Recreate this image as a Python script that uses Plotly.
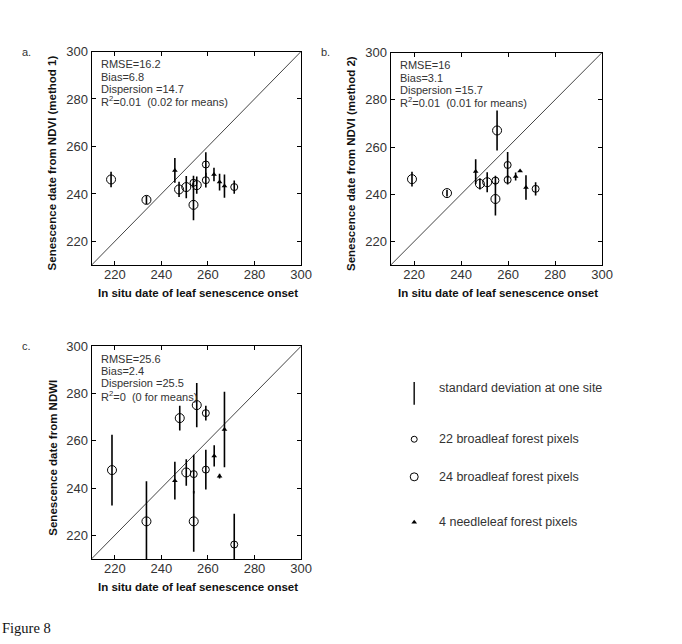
import plotly.graph_objects as go

W, H = 682, 644

# ---------------- data ----------------
AXIS_RANGE = [210, 300]
TICK_VALS = [220, 240, 260, 280, 300]
TICK_TEXT = ["220", "240", "260", "280", "300"]

# Panel a: NDVI method 1
a_big_x = [218.4, 233.6, 247.6, 250.7, 253.8, 255.2]
a_big_y = [246.1, 237.5, 241.9, 242.9, 235.4, 243.7]
a_big_sd = [3.3, 1.7, 3.2, 4.7, 6.5, 3.6]
a_small_x = [253.8, 259.1, 259.1, 271.3]
a_small_y = [244.7, 252.4, 245.8, 242.9]
a_small_sd = [3.0, 5.2, 3.1, 2.8]
a_tri_x = [245.8, 262.6, 265.0, 267.1]
a_tri_y = [249.9, 248.2, 245.0, 243.3]
a_tri_sd = [5.2, 2.8, 3.5, 4.9]
a_stats = ["RMSE=16.2", "Bias=6.8", "Dispersion =14.7", "R<sup>2</sup>=0.01  (0.02 for means)"]

# Panel b: NDVI method 2
b_big_x = [219.1, 234.0, 248.0, 251.1, 254.6, 255.3]
b_big_y = [246.4, 240.5, 244.4, 245.1, 238.0, 267.0]
b_big_sd = [3.1, 1.4, 2.4, 4.2, 7.0, 8.5]
b_small_x = [254.6, 259.8, 259.8, 271.7]
b_small_y = [245.8, 252.4, 246.1, 242.3]
b_small_sd = [2.0, 5.5, 2.0, 2.8]
b_tri_x = [246.2, 263.2, 265.1, 267.6]
b_tri_y = [249.6, 247.5, 249.9, 242.9]
b_tri_sd = [5.2, 1.7, 0.0, 5.2]
b_stats = ["RMSE=16", "Bias=3.1", "Dispersion =15.7", "R<sup>2</sup>=0.01  (0.01 for means)"]

# Panel c: NDWI
c_big_x = [218.8, 233.6, 247.9, 250.7, 253.9, 255.2]
c_big_y = [247.6, 225.9, 269.6, 246.6, 225.9, 275.1]
c_big_sd = [15.0, 17.0, 5.2, 5.6, 12.9, 9.4]
c_small_x = [253.9, 259.1, 259.1, 271.3]
c_small_y = [245.9, 271.7, 247.8, 216.1]
c_small_sd = [8.2, 3.1, 8.4, 13.0]
c_tri_x = [245.8, 262.7, 265.0, 267.1]
c_tri_y = [243.1, 253.6, 245.0, 264.8]
c_tri_sd = [8.0, 4.5, 1.0, 16.0]
c_stats = ["RMSE=25.6", "Bias=2.4", "Dispersion =25.5", "R<sup>2</sup>=0  (0 for means)"]

X_TITLE = "In situ date of leaf senescence onset"
Y_TITLES = ["Senescence date from NDVI (method 1)",
            "Senescence date from NDVI (method 2)",
            "Senescence date from NDWI"]
PANEL_LABELS = ["a.", "b.", "c."]

LEGEND_TEXTS = ["standard deviation at one site",
                "22 broadleaf forest pixels",
                "24 broadleaf forest pixels",
                "4 needleleaf forest pixels"]
FIG_CAPTION = "Figure 8"

# ---------------- layout helpers ----------------
def px(x):
    return x / W

def py(y):
    return 1 - y / H

FONT = "Liberation Sans, Arial, sans-serif"
TXT = "#333333"

# pixel boxes (left, right, top, bottom)
boxes = [(93, 306, 45, 261), (397, 612, 46, 261), (93, 306, 343, 558)]
panel_data = [
    (a_big_x, a_big_y, a_big_sd, a_small_x, a_small_y, a_small_sd, a_tri_x, a_tri_y, a_tri_sd, a_stats),
    (b_big_x, b_big_y, b_big_sd, b_small_x, b_small_y, b_small_sd, b_tri_x, b_tri_y, b_tri_sd, b_stats),
    (c_big_x, c_big_y, c_big_sd, c_small_x, c_small_y, c_small_sd, c_tri_x, c_tri_y, c_tri_sd, c_stats),
]

fig = go.Figure()
annotations = []
layout_axes = {}

def err(sd):
    return dict(type="data", array=sd, visible=True, color="black", thickness=1.6, width=0)

for i, (box, pdata) in enumerate(zip(boxes, panel_data)):
    L, R, T, B = box
    n = "" if i == 0 else str(i + 1)
    xa, ya = "x" + n, "y" + n
    bx, by, bsd, sx, sy, ssd, tx, ty, tsd, stats = pdata

    axis_common = dict(range=AXIS_RANGE, tickvals=TICK_VALS, ticktext=TICK_TEXT,
                       ticks="inside", ticklen=4, tickcolor="black",
                       showline=True, linecolor="black", linewidth=1, mirror="ticks",
                       showgrid=False, zeroline=False,
                       tickfont=dict(family=FONT, size=13, color=TXT))
    layout_axes["xaxis" + n] = dict(axis_common, domain=[px(L), px(R)], anchor=ya,
                                    ticklabelstandoff=-3)
    layout_axes["yaxis" + n] = dict(axis_common, domain=[py(B), py(T)], anchor=xa)

    # 1:1 line
    fig.add_trace(go.Scatter(x=AXIS_RANGE, y=AXIS_RANGE, mode="lines",
                             line=dict(color="#444444", width=1), xaxis=xa, yaxis=ya,
                             showlegend=False, hoverinfo="skip"))
    # big circles
    fig.add_trace(go.Scatter(x=bx, y=by, mode="markers", error_y=err(bsd),
                             marker=dict(symbol="circle-open", size=9, color="black",
                                         line=dict(width=1, color="black")),
                             xaxis=xa, yaxis=ya, showlegend=False))
    # small circles
    fig.add_trace(go.Scatter(x=sx, y=sy, mode="markers", error_y=err(ssd),
                             marker=dict(symbol="circle-open", size=7, color="black",
                                         line=dict(width=1, color="black")),
                             xaxis=xa, yaxis=ya, showlegend=False))
    # needleleaf triangles
    fig.add_trace(go.Scatter(x=tx, y=ty, mode="markers", error_y=err(tsd),
                             marker=dict(symbol="triangle-up", size=5, color="black"),
                             xaxis=xa, yaxis=ya, showlegend=False))

    # stats text
    for k, s in enumerate(stats):
        annotations.append(dict(x=px(L + 8), y=py(T + 13 + k * 12.3), xref="paper", yref="paper",
                                text=s, showarrow=False, xanchor="left", yanchor="middle",
                                font=dict(family=FONT, size=11, color=TXT)))
    # axis titles
    annotations.append(dict(x=px((L + R) / 2 + 2), y=py(B + 28), xref="paper", yref="paper",
                            text="<b>" + X_TITLE + "</b>", showarrow=False,
                            xanchor="center", yanchor="middle",
                            font=dict(family=FONT, size=11.5, color="#111111")))
    annotations.append(dict(x=px(L - 40), y=py((T + B) / 2 + 5), xref="paper", yref="paper",
                            text="<b>" + Y_TITLES[i] + "</b>", showarrow=False, textangle=-90,
                            xanchor="center", yanchor="middle",
                            font=dict(family=FONT, size=11.5, color="#111111")))
    # panel label
    annotations.append(dict(x=px(L - 73), y=py(T), xref="paper", yref="paper",
                            text=PANEL_LABELS[i], showarrow=False, xanchor="left", yanchor="middle",
                            font=dict(family=FONT, size=11, color=TXT)))

# ---------------- legend (hidden pixel axis over the legend area only) ----------------
LEG_L, LEG_R, LEG_T, LEG_B = 400, 680, 360, 560
layout_axes["xaxis4"] = dict(domain=[px(LEG_L), px(LEG_R)], range=[LEG_L, LEG_R],
                             visible=False, anchor="y4")
layout_axes["yaxis4"] = dict(domain=[py(LEG_B), py(LEG_T)], range=[LEG_B, LEG_T],
                             visible=False, anchor="x4")
leg_x = 421
leg_rows = [390, 437, 475, 521]
fig.add_trace(go.Scatter(x=[leg_x, leg_x], y=[leg_rows[0] - 11, leg_rows[0] + 12], mode="lines",
                         line=dict(color="#222222", width=1.6), xaxis="x4", yaxis="y4",
                         showlegend=False, hoverinfo="skip"))
fig.add_trace(go.Scatter(x=[leg_x], y=[leg_rows[1]], mode="markers",
                         marker=dict(symbol="circle-open", size=6, color="black", line=dict(width=1)),
                         xaxis="x4", yaxis="y4", showlegend=False, hoverinfo="skip"))
fig.add_trace(go.Scatter(x=[leg_x], y=[leg_rows[2]], mode="markers",
                         marker=dict(symbol="circle-open", size=8, color="black", line=dict(width=1)),
                         xaxis="x4", yaxis="y4", showlegend=False, hoverinfo="skip"))
fig.add_trace(go.Scatter(x=[leg_x], y=[leg_rows[3]], mode="markers",
                         marker=dict(symbol="triangle-up", size=5, color="black"),
                         xaxis="x4", yaxis="y4", showlegend=False, hoverinfo="skip"))
text_rows = [385, 437, 475, 521]
for t, r in zip(LEGEND_TEXTS, text_rows):
    annotations.append(dict(x=px(444), y=py(r), xref="paper", yref="paper", text=t,
                            showarrow=False, xanchor="left", yanchor="middle",
                            font=dict(family=FONT, size=12.5, color=TXT)))

annotations.append(dict(x=0, y=py(628), xref="paper", yref="paper", text=FIG_CAPTION,
                        showarrow=False, xanchor="left", yanchor="middle",
                        font=dict(family="Liberation Serif, Times New Roman, serif", size=14.5,
                                  color="#111111")))

fig.update_layout(width=W, height=H, margin=dict(l=0, r=0, t=0, b=0),
                  paper_bgcolor="white", plot_bgcolor="rgba(0,0,0,0)",
                  annotations=annotations, showlegend=False, **layout_axes)

fig.write_html("out.html")
